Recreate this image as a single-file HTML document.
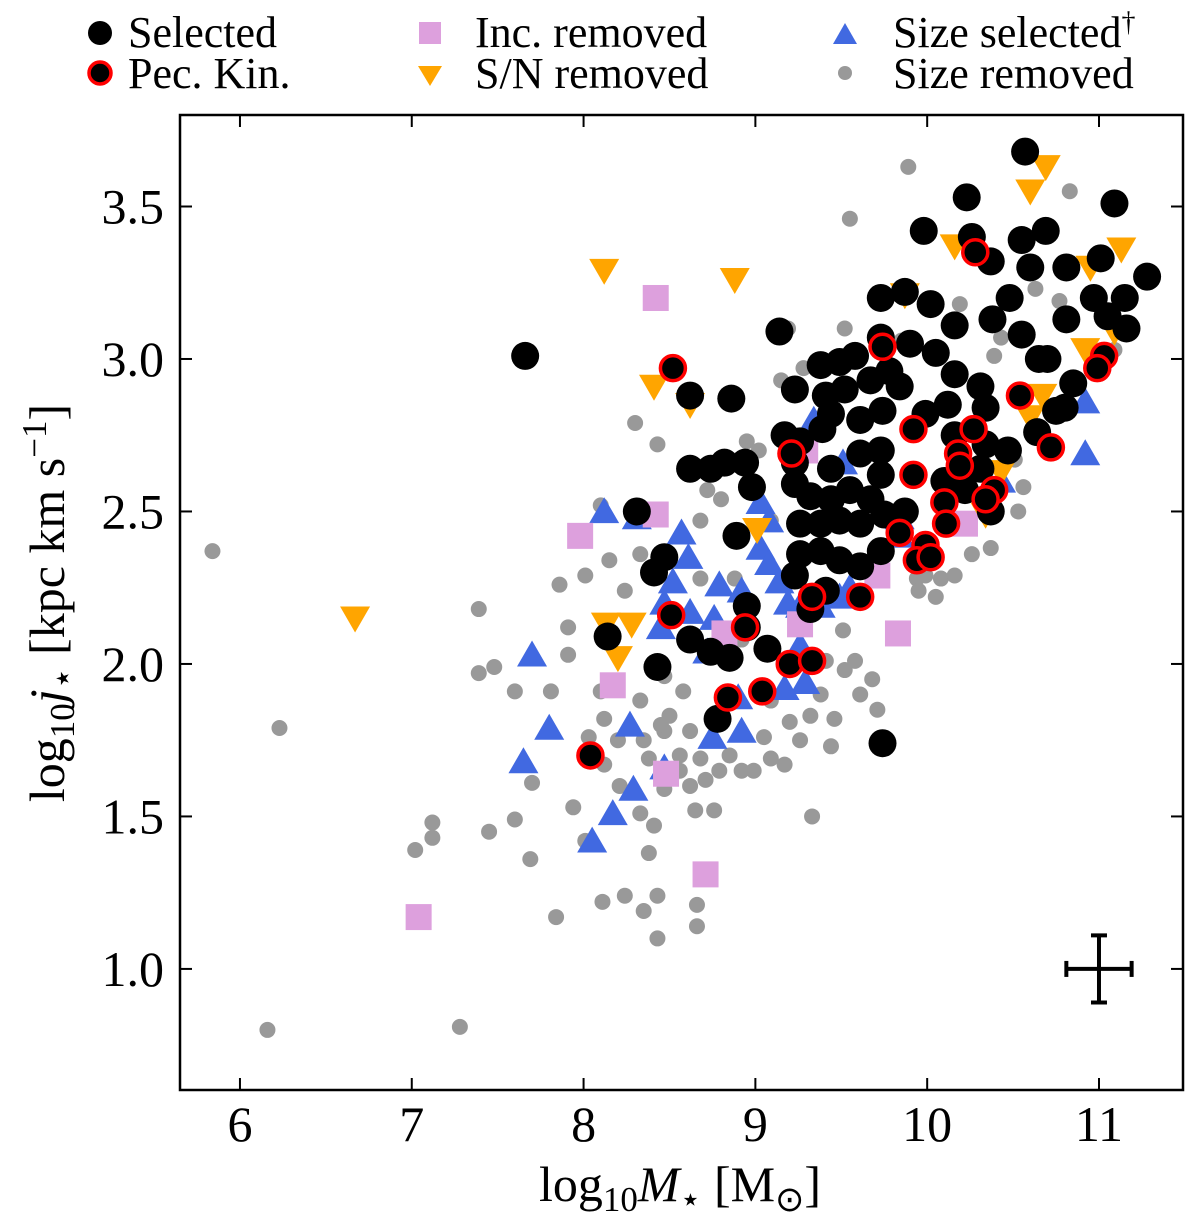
<!DOCTYPE html>
<html><head><meta charset="utf-8"><style>
body{margin:0;background:#fff;}
svg{display:block;font-family:"Liberation Serif",serif;}
</style></head><body>
<svg id="chart" width="1200" height="1226" viewBox="0 0 1200 1226"></svg>
<script>
const selX=[7.66,8.14,8.31,8.41,8.47,8.43,8.62,8.86,8.62,8.74,8.82,8.94,8.98,8.89,8.95,8.95,8.62,8.74,8.85,9.07,8.78,9.14,9.74,10.57,10.23,11.09,9.98,10.26,10.55,10.69,10.37,10.60,10.81,11.01,11.28,11.15,9.73,9.87,10.02,10.16,10.48,10.97,10.81,11.05,11.16,10.38,10.55,10.65,10.70,10.85,10.80,10.75,10.64,10.47,10.34,10.31,10.12,10.16,10.05,9.90,9.73,9.58,9.49,9.38,9.78,9.84,9.67,9.52,9.41,9.23,9.17,9.26,9.39,9.44,9.61,9.74,9.73,9.61,9.44,9.23,9.23,9.32,9.44,9.55,9.67,9.73,9.38,9.26,9.49,9.61,9.75,9.87,10.10,10.22,10.31,10.34,10.37,9.26,9.38,9.49,9.61,9.73,9.23,9.32,9.41,9.99,10.16];
const selY=[3.01,2.09,2.50,2.30,2.35,1.99,2.88,2.87,2.64,2.64,2.66,2.66,2.58,2.42,2.19,2.12,2.08,2.04,2.02,2.05,1.82,3.09,1.74,3.68,3.53,3.51,3.42,3.40,3.39,3.42,3.32,3.30,3.30,3.33,3.27,3.20,3.20,3.22,3.18,3.11,3.20,3.20,3.13,3.14,3.10,3.13,3.08,3.00,3.00,2.92,2.84,2.83,2.76,2.70,2.84,2.91,2.85,2.95,3.02,3.05,3.07,3.01,2.99,2.98,2.96,2.91,2.93,2.90,2.88,2.90,2.75,2.73,2.77,2.82,2.80,2.83,2.70,2.69,2.64,2.66,2.59,2.55,2.54,2.57,2.54,2.62,2.46,2.46,2.47,2.46,2.49,2.50,2.60,2.57,2.64,2.72,2.50,2.36,2.37,2.34,2.32,2.37,2.29,2.18,2.24,2.82,2.75];
const pecX=[8.52,9.74,10.28,11.03,10.99,10.54,10.72,9.21,9.92,10.27,10.18,10.19,9.92,10.10,10.11,10.39,10.34,9.84,9.99,9.94,10.02,9.33,9.61,8.51,8.94,9.20,9.33,9.04,8.84,8.04];
const pecY=[2.97,3.04,3.35,3.01,2.97,2.88,2.71,2.69,2.77,2.77,2.69,2.65,2.62,2.53,2.46,2.57,2.54,2.43,2.39,2.34,2.35,2.22,2.22,2.16,2.12,2.00,2.01,1.91,1.89,1.70];
const snX=[6.67,8.12,8.88,8.41,8.62,8.13,8.28,8.20,9.01,10.69,10.60,10.16,11.13,10.95,9.87,10.92,10.67,10.34,10.43,10.60,11.09];
const snY=[2.16,3.30,3.27,2.92,2.86,2.14,2.14,2.03,2.45,3.64,3.56,3.38,3.37,3.31,3.22,3.04,2.89,2.50,2.64,2.82,3.10];
const incX=[8.42,7.98,8.42,8.17,8.48,8.71,7.04,9.83,8.82,9.26,10.22,9.71,9.29];
const incY=[3.20,2.42,2.49,1.93,1.64,1.31,1.17,2.10,2.10,2.13,2.46,2.29,2.70];
const szX=[7.70,7.65,7.80,8.12,8.05,8.17,8.29,8.27,8.47,8.31,8.57,8.61,8.52,8.47,8.45,8.62,8.79,8.92,8.76,8.72,8.90,8.92,8.75,9.03,9.08,9.14,9.19,9.03,9.08,9.26,9.26,9.29,9.17,9.38,9.49,9.55,9.84,9.84,10.92,10.92,10.43,9.51,9.34];
const szY=[2.02,1.67,1.78,2.49,1.41,1.50,1.58,1.79,1.65,2.47,2.42,2.34,2.26,2.19,2.11,2.16,2.25,2.23,2.14,2.03,1.88,1.77,1.75,2.37,2.32,2.26,2.19,2.52,2.46,2.18,2.05,1.93,1.91,2.18,2.21,2.24,2.47,2.41,2.68,2.85,2.59,2.65,2.79];
const remX=[5.84,6.23,6.16,7.02,7.12,7.12,7.28,7.39,7.39,7.48,7.45,7.60,7.60,7.69,7.81,7.70,7.84,7.86,7.91,7.91,8.01,8.03,7.94,8.01,8.10,8.11,8.12,8.12,8.21,8.24,8.30,8.33,8.35,8.38,8.41,8.43,8.43,8.47,8.43,8.47,8.50,8.56,8.58,8.65,8.66,8.66,8.68,8.76,8.68,8.72,8.80,8.88,8.92,8.79,8.85,8.92,8.99,9.05,9.09,9.17,9.15,9.19,9.28,9.09,9.32,9.33,9.38,9.44,9.46,9.52,9.55,9.52,9.61,9.68,9.71,9.89,9.85,9.94,9.95,9.99,10.08,10.05,10.16,10.19,10.26,10.37,10.51,10.53,10.56,10.39,10.43,10.83,10.63,10.77,11.09,8.95,9.02,8.69,8.33,8.24,8.15,8.68,9.41,9.58,9.51,8.92,9.09,9.20,9.26,8.62,8.56,8.38,8.35,8.33,8.20,8.10,8.47,8.62,8.71,8.45];
const remY=[2.37,1.79,0.80,1.39,1.43,1.48,0.81,2.18,1.97,1.99,1.45,1.91,1.49,1.36,1.91,1.61,1.17,2.26,2.12,2.03,2.29,1.76,1.53,1.42,2.52,1.22,1.82,1.67,1.60,1.24,2.79,1.51,1.19,1.38,1.47,1.24,1.10,1.59,2.72,1.78,1.83,1.70,1.91,1.52,1.21,1.14,1.69,1.52,2.47,2.57,2.54,2.28,2.21,1.65,1.70,1.65,1.65,1.76,1.69,1.67,2.93,3.10,2.97,2.47,1.83,1.50,1.90,1.73,1.82,1.98,3.46,3.10,1.90,1.95,1.85,3.63,3.06,2.28,2.24,2.29,2.28,2.22,2.29,3.18,2.36,2.38,2.67,2.50,2.58,3.01,3.07,3.55,3.23,3.19,3.03,2.73,2.70,2.64,2.36,2.24,2.34,2.28,2.01,2.01,2.11,2.08,1.88,1.81,1.75,1.78,1.65,1.69,1.75,1.88,1.75,1.91,1.96,1.60,1.62,1.80];
const xTicks=[6,7,8,9,10,11];
const yTicks=[1.0,1.5,2.0,2.5,3.0,3.5];

const L=180,R=1183,T=115,B=1090;
const xmin=5.651,xmax=11.489,ymin=0.603,ymax=3.80;
const sx=v=>L+(v-xmin)/(xmax-xmin)*(R-L);
const sy=v=>B-(v-ymin)/(ymax-ymin)*(B-T);
const svg=document.getElementById('chart');
const NS='http://www.w3.org/2000/svg';
function mk(tag,attrs,parent){const e=document.createElementNS(NS,tag);for(const k in attrs)e.setAttribute(k,attrs[k]);(parent||svg).appendChild(e);return e;}

const gp=mk('g',{});


function circle(x,y,r,fill,stroke,sw,name){const c=mk('circle',{cx:x,cy:y,r:r,fill:fill,stroke:stroke||'none','stroke-width':sw||0},gp);

}
function tri(x,y,s,up,fill,name){const h=s*0.866;let p;
if(up)p=`${x-s/2},${y+h/3} ${x+s/2},${y+h/3} ${x},${y-2*h/3}`;else p=`${x-s/2},${y-h/3} ${x+s/2},${y-h/3} ${x},${y+2*h/3}`;
const e=mk('polygon',{points:p,fill:fill},gp);

}
function sq(x,y,s,fill,name){const e=mk('rect',{x:x-s/2,y:y-s/2,width:s,height:s,fill:fill},gp);

}

remX.forEach((v,i)=>circle(sx(v),sy(remY[i]),8,'#999999',null,0,'size-removed-point'));
szX.forEach((v,i)=>tri(sx(v),sy(szY[i]),30,true,'#4169e1','size-selected-point'));
incX.forEach((v,i)=>sq(sx(v),sy(incY[i]),26,'#dda0dd','inc-removed-point'));
snX.forEach((v,i)=>tri(sx(v),sy(snY[i]),30,false,'#ffa500','sn-removed-point'));
selX.forEach((v,i)=>circle(sx(v),sy(selY[i]),14,'#000',null,0,'selected-point'));
pecX.forEach((v,i)=>circle(sx(v),sy(pecY[i]),12.5,'#000','#ff0000',3.5,'pec-kin-point'));

const eb=mk('g',{stroke:'#000','stroke-width':4,fill:'none'});


const ex=sx(11.0),ey=sy(1.0);
mk('line',{x1:sx(10.81),x2:sx(11.19),y1:ey,y2:ey},eb);
mk('line',{x1:ex,x2:ex,y1:sy(1.11),y2:sy(0.89)},eb);
[sx(10.81),sx(11.19)].forEach(x=>mk('line',{x1:x,x2:x,y1:ey-8,y2:ey+8},eb));
[sy(1.11),sy(0.89)].forEach(y=>mk('line',{x1:ex-8,x2:ex+8,y1:y,y2:y},eb));

const fr=mk('rect',{x:L,y:T,width:R-L,height:B-T,fill:'none',stroke:'#000','stroke-width':2.5});


xTicks.forEach(t=>{const x=sx(t);
mk('line',{x1:x,x2:x,y1:B,y2:B-12,stroke:'#000','stroke-width':2});
mk('line',{x1:x,x2:x,y1:T,y2:T+12,stroke:'#000','stroke-width':2});
const tx=mk('text',{x:x,y:B+51,'font-size':50,'text-anchor':'middle'});tx.textContent=t;

});
yTicks.forEach(t=>{const y=sy(t);
mk('line',{x1:L,x2:L+12,y1:y,y2:y,stroke:'#000','stroke-width':2});
mk('line',{x1:R,x2:R-12,y1:y,y2:y,stroke:'#000','stroke-width':2});
const tx=mk('text',{x:L-16,y:y+17,'font-size':50,'text-anchor':'end'});tx.textContent=t.toFixed(1);

});
</script>
<div style="position:absolute;left:0;top:0;width:1200px;height:1226px;pointer-events:none">
<svg width="1200" height="1226" style="font-family:'Liberation Serif',serif">
<text x="680" y="1201" font-size="50" text-anchor="middle">log<tspan font-size="35" dy="10">10</tspan><tspan dy="-10" font-style="italic">M</tspan><tspan font-size="35" dy="10">⋆</tspan><tspan dy="-10"> [M</tspan><tspan font-size="35" dy="10">⊙</tspan><tspan dy="-10">]</tspan></text>
<text transform="translate(64,603) rotate(-90)" font-size="50" text-anchor="middle">log<tspan font-size="35" dy="10">10</tspan><tspan dy="-10" font-style="italic">j</tspan><tspan font-size="35" dy="10">⋆</tspan><tspan dy="-10"> [kpc km s</tspan><tspan font-size="35" dy="-18">−1</tspan><tspan dy="18">]</tspan></text>
<g font-size="44">
<circle cx="100" cy="33" r="12" fill="#000"/><text x="128" y="47">Selected</text>
<circle cx="100" cy="73" r="11" fill="#000" stroke="#ff0000" stroke-width="3.5"/><text x="128" y="88">Pec. Kin.</text>
<rect x="419" y="22" width="22" height="22" fill="#dda0dd"/><text x="475" y="47">Inc. removed</text>
<polygon points="418,66 442,66 430,86" fill="#ffa500"/><text x="475" y="88">S/N removed</text>
<polygon points="833,44 857,44 845,23" fill="#4169e1"/><text x="893" y="47">Size selected<tspan font-size="28" dy="-16">†</tspan></text>
<circle cx="845" cy="73" r="7" fill="#999"/><text x="893" y="88">Size removed</text>
</g>
</svg></div>
</body></html>
